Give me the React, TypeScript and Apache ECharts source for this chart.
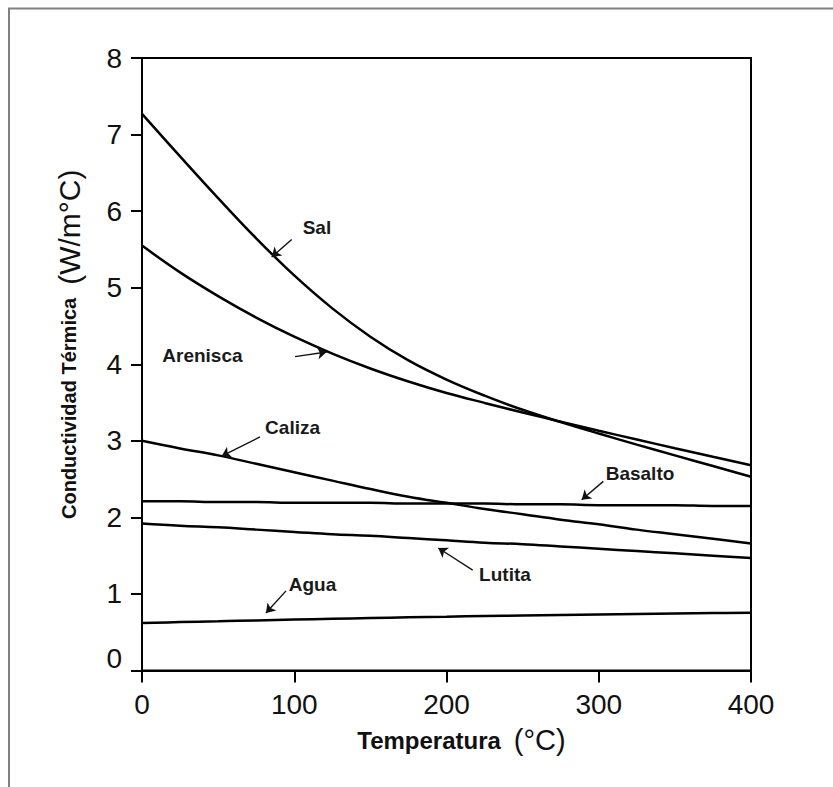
import React, { useEffect, useRef } from 'react';
import * as echarts from 'echarts';

// Temperature (°C)
const temperatures = [0, 25, 50, 75, 100, 125, 150, 175, 200, 225, 250, 275, 300, 325, 350, 375, 400];

// Thermal conductivity (W/m°C)
const sal = [7.27, 6.715, 6.17, 5.645, 5.16, 4.73, 4.36, 4.05, 3.8, 3.59, 3.405, 3.245, 3.095, 2.95, 2.81, 2.67, 2.53];
const arenisca = [5.55, 5.2, 4.89, 4.61, 4.36, 4.14, 3.945, 3.775, 3.625, 3.495, 3.37, 3.25, 3.132, 3.017, 2.903, 2.791, 2.68];
const caliza = [3.0, 2.9, 2.81, 2.7, 2.59, 2.48, 2.37, 2.27, 2.19, 2.11, 2.04, 1.97, 1.91, 1.84, 1.78, 1.72, 1.66];
const basalto = [2.21, 2.21, 2.2, 2.2, 2.19, 2.19, 2.19, 2.18, 2.18, 2.18, 2.17, 2.17, 2.16, 2.16, 2.16, 2.15, 2.15];
const lutita = [1.92, 1.89, 1.87, 1.84, 1.81, 1.78, 1.76, 1.73, 1.7, 1.67, 1.65, 1.62, 1.59, 1.56, 1.53, 1.5, 1.47];
const agua = [0.62, 0.632, 0.643, 0.654, 0.665, 0.675, 0.685, 0.695, 0.703, 0.711, 0.718, 0.725, 0.732, 0.738, 0.744, 0.75, 0.755];

const seriesNames = ['Sal', 'Arenisca', 'Caliza', 'Basalto', 'Lutita', 'Agua'];
const seriesValues = [sal, arenisca, caliza, basalto, lutita, agua];

// Axis ticks
const xMin = 0;
const xMax = 400;
const xStep = 100;
const yMin = 0;
const yMax = 8;
const yStep = 1;

// Annotation labels (data coordinates) and their arrows (from -> to)
const labelAt = [
  [114.9, 5.78],
  [39.7, 4.11],
  [98.9, 3.17],
  [327.1, 2.57],
  [238.4, 1.26],
  [112.0, 1.12],
];
const arrowFrom = [
  [98.3, 5.63],
  [100.5, 4.1],
  [77.5, 3.05],
  [303.0, 2.47],
  [217.2, 1.31],
  [94.6, 1.04],
];
const arrowTo = [
  [85.2, 5.4],
  [121.3, 4.16],
  [52.3, 2.8],
  [288.8, 2.23],
  [194.6, 1.6],
  [81.4, 0.75],
];

const FONT = '"Liberation Sans", Arial, Helvetica, sans-serif';

export default function App() {
  const ref = useRef<HTMLDivElement>(null);

  useEffect(() => {
    if (!ref.current) return;
    const chart = echarts.init(ref.current, null, { renderer: 'svg' });

    const series = seriesValues.map((vals, i) => ({
      name: seriesNames[i],
      type: 'line',
      data: temperatures.map((t, j) => [t, vals[j]]),
      showSymbol: false,
      symbol: 'none',
      smooth: 0.4,
      silent: true,
      lineStyle: { color: '#000', width: 2.5 },
      z: 3,
      markLine: {
        silent: true,
        animation: false,
        symbol: ['none', 'arrow'],
        symbolSize: 9,
        label: { show: false },
        lineStyle: { color: '#111', width: 1.4, type: 'solid' },
        emphasis: { disabled: true },
        data: [[{ coord: arrowFrom[i] }, { coord: arrowTo[i] }]],
      },
    }));

    const option: any = {
      animation: false,
      backgroundColor: '#fff',
      grid: {
        left: 142,
        top: 58,
        right: 82,
        bottom: 116.5,
        containLabel: false,
        outerBoundsMode: 'none',
        show: true,
        borderColor: '#000',
        borderWidth: 2,
        backgroundColor: 'transparent',
      },
      xAxis: {
        type: 'value',
        min: xMin,
        max: xMax,
        interval: xStep,
        axisLine: { show: true, onZero: false, lineStyle: { color: '#000', width: 2 } },
        axisTick: { show: true, inside: false, length: 12, lineStyle: { color: '#000', width: 2 } },
        axisLabel: { fontSize: 28, color: '#111', margin: 20, fontFamily: FONT },
        splitLine: { show: false },
        name: '{b|Temperatura}{g|}{r|(°C)}',
        nameLocation: 'middle',
        nameGap: 55,
        nameTextStyle: {
          padding: [0, 0, 0, 30],
          rich: {
            b: { fontSize: 24, fontWeight: 'bold', color: '#111', fontFamily: FONT },
            g: { width: 13 },
            r: { fontSize: 29, color: '#111', fontFamily: FONT },
          },
        },
      },
      yAxis: {
        type: 'value',
        min: yMin,
        max: yMax,
        interval: yStep,
        axisLine: { show: true, onZero: false, lineStyle: { color: '#000', width: 2 } },
        axisTick: { show: true, inside: false, length: 11, lineStyle: { color: '#000', width: 2 } },
        axisLabel: {
          fontSize: 28,
          color: '#111',
          margin: 20,
          fontFamily: FONT,
          formatter: (v: number) => (v === 0 ? '{z|0}' : String(v)),
          rich: {
            z: { fontSize: 28, color: '#111', fontFamily: FONT, padding: [0, 0, 24, 0] },
          },
        },
        splitLine: { show: false },
        name: '{b|Conductividad Térmica}{g|}{r|(W/m°C)}',
        nameLocation: 'middle',
        nameGap: 58,
        nameTextStyle: {
          padding: [0, 0, 0, 40],
          rich: {
            b: { fontSize: 20, fontWeight: 'bold', color: '#111', fontFamily: FONT },
            g: { width: 13 },
            r: { fontSize: 30, color: '#111', fontFamily: FONT },
          },
        },
      },
      series,
    };

    chart.setOption(option);

    const texts = seriesNames.map((name, i) => {
      const p = chart.convertToPixel({ gridIndex: 0 }, labelAt[i]) as number[];
      return {
        type: 'text',
        x: p[0],
        y: p[1],
        silent: true,
        z: 10,
        style: {
          text: name,
          fontSize: 19,
          fontWeight: 'bold',
          fontFamily: FONT,
          fill: '#1a1a1a',
          align: 'center',
          textAlign: 'center',
          verticalAlign: 'middle',
          textVerticalAlign: 'middle',
        },
      };
    });

    chart.setOption({
      graphic: [
        {
          type: 'rect',
          silent: true,
          z: 0,
          shape: { x: 9, y: 8.5, width: 1200, height: 1200 },
          style: { fill: 'none', stroke: '#808080', lineWidth: 2 },
        },
        ...texts,
      ],
    });

    return () => {
      chart.dispose();
    };
  }, []);

  return (
    <div
      ref={ref}
      style={{ position: 'absolute', left: 0, top: 0, width: 833, height: 787, background: '#fff' }}
    />
  );
}
